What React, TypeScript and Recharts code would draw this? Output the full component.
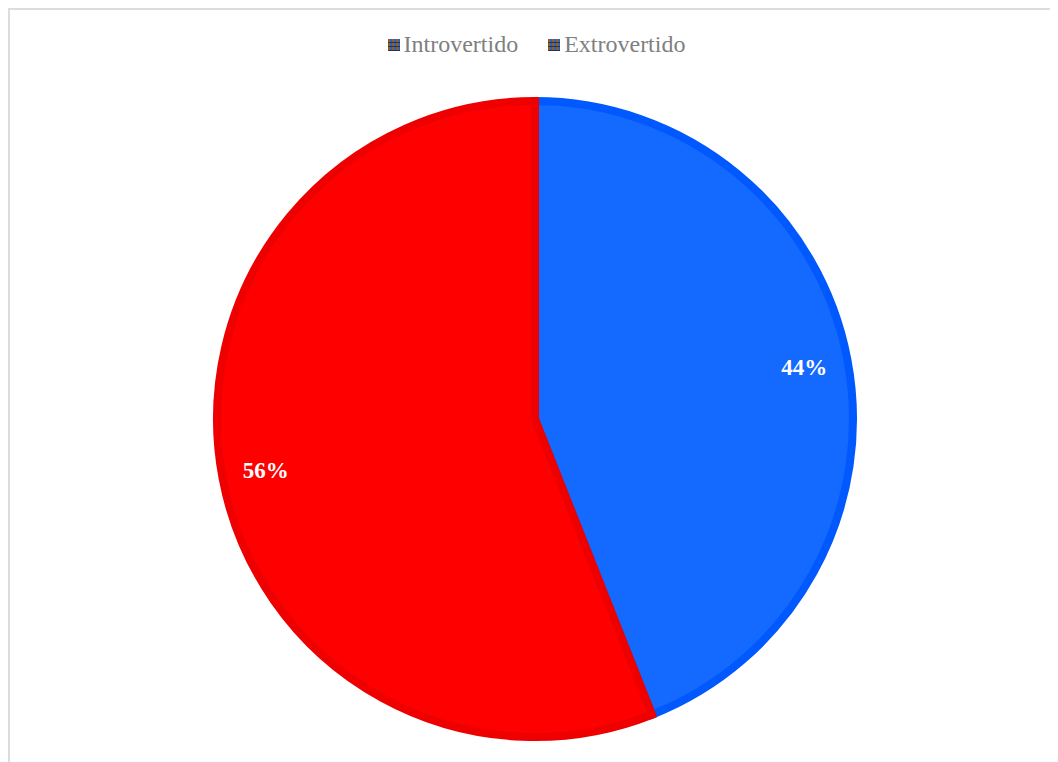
import React from 'react';
import { PieChart, Pie, Cell, Legend } from 'recharts';

const categories = ['Introvertido', 'Extrovertido'];
const values = [44, 56];
const fills = ['#1469ff', '#ff0000'];
const strokes = ['#0058ff', '#ee0000'];

const data = categories.map((name, i) => ({ name, value: values[i] }));

const RADIAN = Math.PI / 180;

const renderLabel = (props: any) => {
    const { cx, cy, midAngle, outerRadius, percent } = props;
    const r = outerRadius * 0.862;
    const x = cx + r * Math.cos(-midAngle * RADIAN);
    const y = cy + r * Math.sin(-midAngle * RADIAN);
    return (
        <text x={x} y={y} fill="#ffffff" textAnchor="middle" dominantBaseline="central"
            fontFamily="'Liberation Serif', serif" fontWeight="bold" fontSize={23}>
            {`${Math.round(percent * 100)}%`}
        </text>
    );
};

// small multicoloured square like the original legend markers
const LegendIcon = () => (
    <svg width={12} height={12} style={{ marginRight: 4, verticalAlign: 'middle' }}>
        <rect width={12} height={12} fill="#222" />
        {[0, 4, 8].map((x) => (
            <g key={x}>
                <rect x={x} y={0} width={1.3} height={12} fill="#e03030" />
                <rect x={x + 1.3} y={0} width={1.3} height={12} fill="#30c040" />
                <rect x={x + 2.6} y={0} width={1.4} height={12} fill="#3050f0" />
            </g>
        ))}
        {[3, 7, 11].map((y) => (
            <rect key={y} x={0} y={y} width={12} height={1} fill="#333" />
        ))}
    </svg>
);

const renderLegend = () => (
    <div style={{ display: 'flex', justifyContent: 'center', gap: 30, fontFamily: "'Liberation Serif', serif", fontSize: 24, color: '#7f7f7f' }}>
        {categories.map((c) => (
            <span key={c} style={{ display: 'flex', alignItems: 'center' }}>
                <LegendIcon />
                {c}
            </span>
        ))}
    </div>
);

export default function App() {
    return (
        <div style={{ width: 1045, height: 770, border: '2px solid #dcdcdc', borderRight: 'none', background: '#fff' }}>
            <PieChart width={1045} height={760}>
                <Legend verticalAlign="top" content={renderLegend} wrapperStyle={{ top: 21, left: 4, width: 1045 }} />
                <Pie
                    data={data}
                    dataKey="value"
                    nameKey="name"
                    cx={520}
                    cy={377}
                    outerRadius={318}
                    startAngle={90}
                    endAngle={-270}
                    label={renderLabel}
                    labelLine={false}
                    isAnimationActive={false}
                >
                    {data.map((d, i) => (
                        <Cell key={d.name} fill={fills[i]} stroke={strokes[i]} strokeWidth={8} />
                    ))}
                </Pie>
            </PieChart>
        </div>
    );
}
